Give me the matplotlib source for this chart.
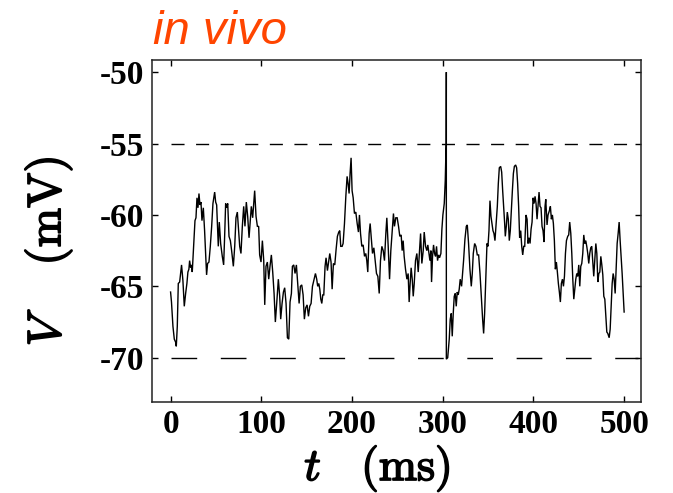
import matplotlib
matplotlib.use("Agg")
import matplotlib.pyplot as plt
import matplotlib.patheffects as pe

# ---- data (t in ms, V in mV) ----
trace_a = [(0, -65.4), (1.0, -66.1), (2.6, -67.8), (4.1, -68.7), (5.5, -68.9), (6.3, -69.2), (7.4, -67.8),
           (8.5, -64.8), (10.0, -64.7), (11.0, -64.1), (12.1, -63.5), (13.6, -64.6), (15.1, -66.4), (16.6, -65.5),
           (18.0, -64.8), (19.1, -64.0), (20.2, -63.8), (21.0, -63.2), (22.1, -63.7), (23.2, -63.5), (23.9, -64.0),
           (25.4, -62.2), (26.9, -60.4), (28.0, -60.2), (29.1, -58.8), (30.2, -59.5), (31.3, -58.5), (32.4, -59.3),
           (33.5, -59.1), (34.6, -60.4), (36.1, -59.5), (37.5, -61.1), (38.6, -62.7), (39.7, -64.2), (40.8, -63.4),
           (42.3, -63.3), (43.8, -62.2), (45.3, -60.8), (46.7, -59.2), (48.6, -58.4), (49.7, -59.1), (50.8, -59.3),
           (51.9, -61.1), (52.6, -62.2), (53.7, -60.5), (55.2, -62.0), (57.0, -62.9), (58.5, -63.5), (59.6, -61.5),
           (60.7, -59.2), (61.8, -59.5), (63.0, -59.2), (64.4, -61.5), (65.9, -61.8), (67.3, -62.5), (69.2, -63.6),
           (70.7, -62.2), (72.1, -60.2), (73.6, -59.8), (74.7, -60.8), (76.2, -62.2), (77.6, -62.7)]
trace_b = [(79.1, -60.8), (80.6, -59.4), (82.0, -60.8), (83.5, -59.1), (85.0, -60.1), (86.5, -61.6), (87.9, -60.4),
           (89.0, -59.4), (90.5, -60.2), (91.6, -59.2), (92.7, -58.3), (94.2, -60.1), (95.7, -60.8), (97.1, -60.8),
           (98.2, -62.8), (99.7, -63.3), (101.2, -61.8), (102.7, -63.2), (103.8, -66.3), (105.2, -63.6), (106.7, -63.3),
           (108.2, -64.5), (109.6, -63.6), (111.1, -62.8), (112.6, -64.0), (114.1, -65.5), (115.5, -67.5), (117.0, -66.2),
           (118.8, -64.5), (120.3, -65.7), (121.4, -67.3), (122.9, -66.2), (124.4, -65.4), (125.8, -65.1), (127.3, -66.2),
           (128.8, -68.6), (130.3, -68.7), (131.7, -66.1), (133.2, -65.5), (134.3, -63.6), (135.8, -63.5), (137.2, -64.1),
           (138.7, -63.5), (140.2, -64.8), (141.7, -66.2), (143.1, -65.0), (144.6, -64.9), (146.1, -65.6), (147.5, -67.3),
           (149.0, -66.5), (150.5, -66.3), (152.0, -67.1), (153.4, -66.4), (154.9, -66.2), (156.4, -65.0), (158.2, -64.5),
           (159.7, -64.1)]
trace_c = [(161.1, -64.5), (162.2, -65.0), (163.4, -64.8), (164.5, -65.2), (165.6, -65.9), (166.7, -66.2), (167.8, -65.6),
           (168.9, -65.6), (170.3, -63.6), (171.4, -63.0), (172.9, -63.9), (174.4, -63.2), (175.5, -62.7), (176.9, -63.3),
           (178.1, -65.2), (179.5, -63.4), (181.0, -63.5), (182.5, -62.4), (183.9, -61.5), (185.4, -61.2), (186.5, -61.1),
           (187.6, -62.2), (189.1, -62.2), (190.2, -62.0), (191.7, -60.6), (193.2, -58.7), (194.6, -57.3), (195.7, -57.8),
           (196.8, -58.5), (197.9, -57.1), (199.0, -56.0), (200.1, -58.3), (201.3, -58.8), (202.7, -59.9), (204.2, -59.8),
           (205.7, -60.6), (207.1, -61.2), (208.2, -60.0), (209.4, -61.3), (210.8, -62.2), (212.3, -62.1), (213.8, -62.9),
           (215.2, -62.7), (216.3, -63.2), (217.4, -64.0), (218.9, -61.3), (220.0, -60.6), (221.5, -61.8), (222.6, -62.7),
           (224.1, -62.3), (225.5, -63.2), (227.0, -64.1), (228.5, -64.3), (230.0, -65.5), (231.4, -63.2), (232.9, -62.2),
           (234.4, -62.5), (235.8, -63.2), (237.3, -61.3), (238.4, -60.2), (239.9, -62.2), (241.4, -64.5)]
trace_d = [(242.8, -62.5), (244.3, -61.1), (245.7, -59.9), (246.8, -60.8), (248.3, -60.2), (249.8, -60.2), (251.3, -60.8),
           (252.7, -61.5), (254.2, -61.4), (255.3, -62.5), (256.4, -61.8), (257.5, -62.9), (259.0, -63.8), (260.5, -64.5),
           (261.9, -64.1), (263.0, -66.1), (264.1, -64.8), (265.2, -63.7), (266.4, -64.5), (267.5, -65.7), (268.6, -64.8),
           (270.0, -63.2), (271.5, -62.7), (273.0, -64.0), (274.4, -62.5), (275.6, -61.3), (277.0, -63.4), (278.5, -62.5),
           (279.6, -61.2), (281.1, -62.2), (282.5, -62.5), (283.6, -62.1), (284.8, -62.7), (285.9, -63.2), (287.0, -62.5),
           (287.7, -64.7), (288.8, -62.9), (289.9, -62.1), (291.0, -62.7), (292.1, -62.9), (293.2, -62.2), (294.3, -63.2),
           (295.4, -62.8), (296.5, -63.0), (298.0, -62.7), (299.1, -61.0), (300.2, -60.0), (301.7, -59.2), (302.8, -57.6),
           (303.5, -55.7), (303.9, -55.0), (304.0, -50.0), (304.0, -70.1), (305.5, -70.0), (307.2, -68.7), (308.3, -67.3),
           (309.4, -66.9), (310.5, -68.5), (311.6, -66.9), (312.7, -65.7), (313.8, -65.5), (314.9, -66.4), (316.0, -65.4),
           (317.1, -65.6), (318.2, -65.2), (319.3, -64.5), (320.8, -65.0), (321.9, -64.1), (323.0, -63.2), (324.5, -61.7),
           (326.0, -60.8), (327.1, -60.7), (328.5, -62.0), (330.0, -63.8), (331.5, -65.0)]
trace_e = [(332.6, -64.1), (333.7, -62.7), (335.2, -62.0), (336.6, -62.2), (338.1, -62.8), (339.6, -62.8), (341.1, -64.1),
           (342.5, -65.7), (344.0, -67.3), (345.1, -68.3), (346.2, -66.9), (347.7, -64.1), (348.8, -62.0), (349.9, -62.2),
           (351.0, -61.1), (352.1, -59.0), (353.2, -60.1), (354.3, -60.6), (355.4, -61.1), (356.5, -61.3), (357.6, -61.8),
           (358.7, -60.8), (360.2, -59.4), (361.3, -57.8), (362.4, -56.7), (363.9, -56.6), (365.0, -57.0), (366.1, -58.3),
           (367.2, -59.4), (368.3, -60.6), (369.0, -61.5), (370.1, -60.8), (371.2, -59.8), (372.3, -60.3), (373.4, -61.8),
           (374.5, -61.1), (375.6, -59.7), (376.8, -58.3), (377.9, -57.1), (379.0, -56.6), (380.4, -56.5), (381.5, -56.7),
           (382.6, -57.8), (383.7, -59.4), (384.8, -61.6), (386.0, -61.1), (387.1, -62.2), (388.2, -62.8), (389.3, -62.2),
           (390.4, -62.2), (391.8, -60.0), (393.0, -60.3), (394.0, -62.0), (395.2, -61.6), (396.3, -62.0), (397.4, -61.0),
           (398.5, -60.5), (399.6, -58.8), (400.7, -59.2), (401.8, -58.7), (402.9, -59.2), (404.0, -60.3), (405.1, -59.3),
           (406.2, -58.4), (407.3, -59.4)]
trace_f = [(408.4, -59.5), (409.5, -60.8), (410.6, -61.1), (411.7, -61.9), (412.8, -59.4), (413.6, -58.9), (415.0, -60.7),
           (416.1, -60.0), (417.6, -59.7), (418.7, -59.4), (419.8, -60.3), (420.9, -60.0), (422.0, -60.6), (423.1, -61.8),
           (424.2, -63.8), (425.3, -63.3), (426.4, -64.0), (427.5, -64.8), (428.6, -65.4), (429.7, -66.1), (430.8, -64.8),
           (432.0, -64.5), (433.1, -65.0), (434.2, -64.3), (435.3, -62.7), (436.4, -61.8), (437.8, -61.5), (438.9, -61.4),
           (440.0, -60.5), (441.2, -61.3), (442.3, -62.7), (443.4, -64.5), (444.5, -65.9), (445.6, -65.2), (446.7, -64.5),
           (447.8, -64.1), (448.9, -64.3), (450.0, -63.5), (451.1, -65.0), (452.2, -63.6), (453.3, -63.4), (454.4, -62.7),
           (455.5, -61.4), (456.6, -62.0), (457.7, -61.8), (458.8, -62.2), (459.9, -62.7), (461.0, -63.4), (462.1, -62.7),
           (463.2, -62.3), (464.3, -62.2), (465.4, -63.2), (466.5, -64.3), (467.6, -63.2), (468.8, -62.0), (469.9, -62.7),
           (471.0, -64.7), (472.1, -64.1), (473.2, -64.0), (474.3, -62.9), (475.4, -63.5), (476.5, -64.2), (477.6, -65.7),
           (478.7, -65.9), (479.8, -67.1), (480.9, -68.2), (482.0, -68.3), (483.5, -68.6), (484.6, -68.0), (485.7, -66.4),
           (486.8, -64.8), (487.9, -64.1), (489.0, -64.5), (490.1, -65.5), (491.2, -63.8), (492.3, -62.0), (493.4, -61.3),
           (494.5, -60.5), (495.6, -61.8), (496.7, -62.9), (497.8, -64.1), (498.9, -65.5), (500.0, -66.8)]

threshold_v = -55.0
reset_v = -70.0
ref_t_range = (0, 515)
x_ticks = [0, 100, 200, 300, 400, 500]
y_ticks = [-50, -55, -60, -65, -70]
title_text = "in vivo"

trace = trace_a + trace_b + trace_c + trace_d + trace_e + trace_f
t_vals = [p[0] for p in trace]
v_vals = [p[1] for p in trace]

# ---- styling ----
plt.rcParams['axes.unicode_minus'] = False
plt.rcParams['lines.scale_dashes'] = False
plt.rcParams['mathtext.fontset'] = 'cm'

fig = plt.figure(figsize=(6.73, 4.93), dpi=100)
ax = fig.add_axes([0.2265, 0.1846, 0.7265, 0.6937])

ax.plot(t_vals, v_vals, color='black', lw=1.0, solid_joinstyle='miter', zorder=3)
ax.plot(ref_t_range, [threshold_v, threshold_v], color='black', lw=1.0,
        linestyle=(0, (9.4, 8.3)), zorder=2)
ax.plot(ref_t_range, [reset_v, reset_v], color='black', lw=1.0,
        linestyle=(0, (18.5, 17.0)), zorder=2)

ax.set_xlim(-20, 519)
ax.set_ylim(-73.1, -49.15)
ax.set_xticks(x_ticks)
ax.set_yticks(y_ticks)
ax.set_xticklabels([str(v) for v in x_ticks])
ax.set_yticklabels([str(v) for v in y_ticks])
ax.tick_params(direction='in', length=4.5, width=1.0, top=True, right=True)
ax.tick_params(axis='x', pad=5)
ax.tick_params(axis='y', pad=6)
for lbl in ax.get_xticklabels() + ax.get_yticklabels():
    lbl.set_fontfamily('Liberation Serif')
    lbl.set_fontweight('bold')
    lbl.set_fontsize(24)
for sp in ax.spines.values():
    sp.set_linewidth(1.1)
    sp.set_color('#222222')

bold = [pe.withStroke(linewidth=1.2, foreground='black')]
ax.set_xlabel(r'$t\quad\mathrm{(ms)}$', fontsize=33, path_effects=bold)
ax.xaxis.set_label_coords(0.46, -0.12)
ax.set_ylabel(r'$V\quad\;\mathrm{(mV)}$', fontsize=34, path_effects=bold)
ax.yaxis.set_label_coords(-0.16, 0.44)

fig.text(153 / 673, 1 - 44 / 493, title_text, ha='left', va='baseline', fontsize=34,
         fontstyle='italic', fontfamily='Liberation Sans', color='#FF4500')

fig.savefig('out.png', dpi=100)
